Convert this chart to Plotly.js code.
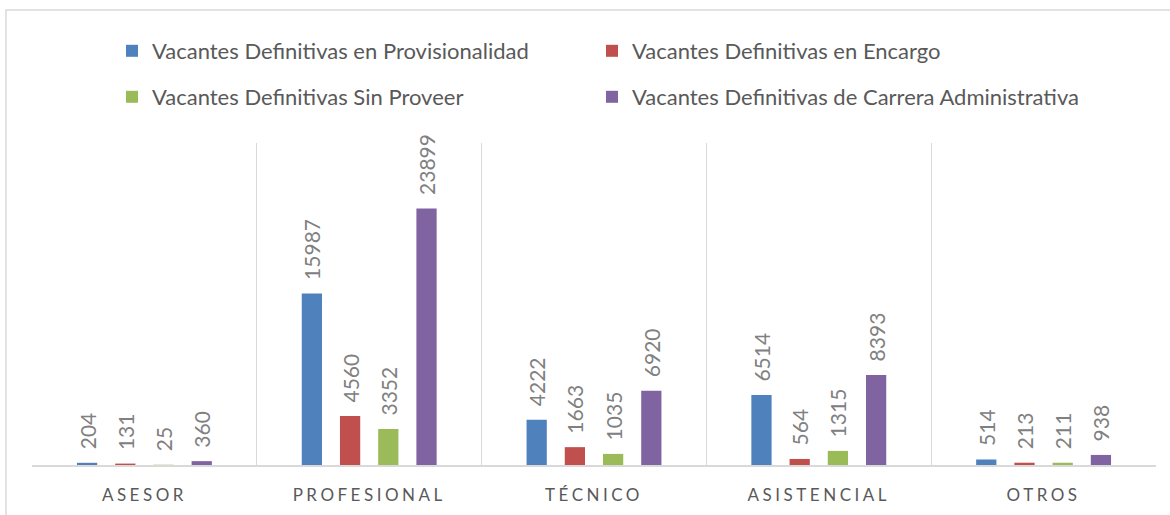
<!DOCTYPE html>
<html>
<head>
<meta charset="utf-8">
<script src="https://cdn.plot.ly/plotly-3.0.1.min.js"></script>
<style>
body{margin:0;padding:0;background:#fff;}
#chart{width:1170px;height:515px;}
.xaxislayer-above .xtick text{letter-spacing:3.5px;}
</style>
</head>
<body>
<div id="chart"></div>
<script>
const categories = ['ASESOR','PROFESIONAL','TÉCNICO','ASISTENCIAL','OTROS'];
const seriesNames = [
  'Vacantes Definitivas en Provisionalidad',
  'Vacantes Definitivas en Encargo',
  'Vacantes Definitivas Sin Proveer',
  'Vacantes Definitivas de Carrera Administrativa'
];
const provisionalidad = [204, 15987, 4222, 6514, 514];
const encargo = [131, 4560, 1663, 564, 213];
const sinProveer = [25, 3352, 1035, 1315, 211];
const carrera = [360, 23899, 6920, 8393, 938];

const colors = ['#4f81bd','#c0504d','#9bbb59','#8064a2'];
const values = [provisionalidad, encargo, sinProveer, carrera];
const legendIds = ['legend','legend2','legend3','legend4'];

const traces = values.map((v,i)=>({
  type:'bar',
  name: seriesNames[i],
  x: categories,
  y: v,
  marker:{color:colors[i]},
  text: v.map(n => '\u2002' + n),
  textposition:'outside',
  textangle:-90,
  constraintext:'none',
  cliponaxis:false,
  textfont:{family:'Lato, "Liberation Sans", sans-serif', size:21, color:'#808080'},
  legend: legendIds[i],
  hoverinfo:'x+y+name'
}));

const W=1170, H=515, L=32, R=14, T=143, B=50;
const pw=W-L-R, ph=H-T-B;
const px = x => (x-L)/pw;
const py = y => (H-B-y)/ph;

const legendFont = {family:'Lato, "Liberation Sans", sans-serif', size:22, color:'#595959'};
const mkLegend = (x, y) => ({orientation:'h', x:px(x), y:py(y), xanchor:'left', yanchor:'top',
  font:legendFont, bgcolor:'rgba(0,0,0,0)'});
const layout = {
  width:W, height:H,
  margin:{l:L, r:R, t:T, b:B, autoexpand:false},
  paper_bgcolor:'#fff', plot_bgcolor:'#fff',
  barmode:'group',
  bargap:0.32,
  bargroupgap:0.47,
  showlegend:true,
  legend: mkLegend(112, 30),
  legend2: mkLegend(592, 30),
  legend3: mkLegend(112, 76),
  legend4: mkLegend(592, 76),
  xaxis:{
    type:'category',
    tickson:'boundaries',
    showgrid:true, gridcolor:'#d9d9d9', gridwidth:1.3,
    showline:true, linecolor:'#d9d9d9', linewidth:2,
    ticks:'', ticklen:0,
    tickfont:{family:'Lato, "Liberation Sans", sans-serif', size:17, color:'#595959'},
    ticklabelstandoff:14,
    zeroline:false, fixedrange:true
  },
  yaxis:{
    range:[0,30000], visible:false, showgrid:false, zeroline:false, fixedrange:true
  },
  shapes:[{
    type:'rect', xref:'paper', yref:'paper', layer:'below',
    x0:px(6), x1:px(1200), y0:py(560), y1:py(10),
    line:{color:'#d9d9d9', width:1.5}, fillcolor:'rgba(0,0,0,0)'
  }]
};

Plotly.newPlot('chart', traces, layout, {displayModeBar:false, staticPlot:true});
</script>
</body>
</html>
